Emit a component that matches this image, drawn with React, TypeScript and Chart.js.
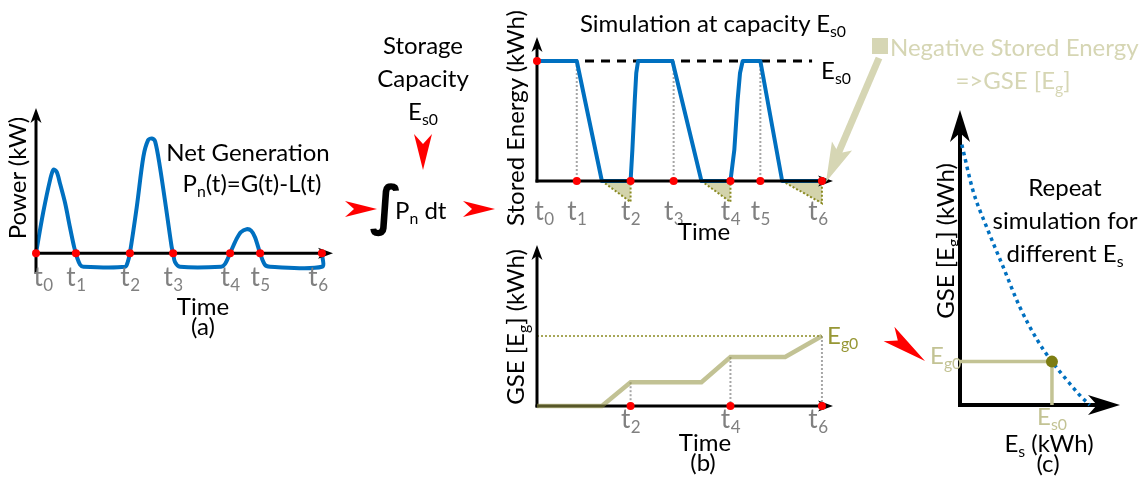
import React, { useEffect, useRef } from "react";
import { Chart, registerables } from "chart.js";

Chart.register(...registerables);

const FONT = "Lato, 'Open Sans', sans-serif";
const BLUE = "#0070c0";
const RED = "#ff0000";
const GRAY_TICK = "#808080";
const OLIVE_LINE = "rgba(150,150,70,0.58)";
const OLIVE_LIGHT = "#c3c394";
const OLIVE_PALE = "#d6d6b4";
const OLIVE_DARK = "#8a8a22";
const TRI_FILL = "#d3d3ab";

// ---- shared time instants t0..t6 (arbitrary time units) ----
const tickTimes = [0, 13.3, 31.3, 45.7, 64.7, 74.7, 95.3];
const tickSubs = ["0", "1", "2", "3", "4", "5", "6"];

// ---- (a) net generation P_n(t) ----
const netTime = [0, 2.4, 4.7, 5.8, 6.9, 8, 9.7, 11.3, 12.7, 13.3, 13.6, 14.7, 15.8, 29.7, 30.6, 31.3, 33.6, 35.8, 37.4, 38.6, 39.7, 41.3, 43.6, 45.2, 45.7, 46.3, 48, 61.7, 63, 64.7, 66.9, 68.3, 70.2, 71.7, 73, 74.7, 76.3, 78, 95.3, 95.3];
const netPower = [0, 2.8, 5.05, 5.75, 5.6, 4.8, 3.45, 1.8, 0.43, 0, -0.25, -0.8, -0.94, -0.94, -0.6, 0, 3.2, 6.65, 7.8, 7.9, 7.7, 5.95, 2.75, 0.45, 0, -0.6, -0.94, -0.94, -0.75, 0, 1.0, 1.45, 1.65, 1.55, 1.1, 0, -0.8, -0.94, -0.94, 0];

// ---- stored energy at capacity Es0 ----
const capacityEs0 = 10;
const storeTime = [0, 13.3, 21.7, 31.3, 31.9, 32.7, 33.2, 33.8, 45.3, 55, 64.7, 66, 67.1, 67.9, 68.8, 74.7, 82, 95.3];
const storeEnergy = [10, 10, 0, 0, 2.6, 6.75, 9, 10, 10, 0, 0, 2.6, 6.75, 9, 10, 10, 0, 0];
const negStart = [21.7, 55, 82];
const negEnd = [31.3, 64.7, 95.3];
const negDepth = [-1.75, -1.75, -1.85];
const dashEnd = 92;
const fullTimes = [13.3, 45.7, 74.7];

// ---- (b) GSE accumulation ----
const gseTime = [0, 21.7, 31.3, 55, 64.7, 83, 95.3];
const gseValue = [0, 0, 3.4, 3.4, 7, 7, 10];
const gseTicks = [2, 4, 6];
const gseAtTicks = [3.4, 7, 10];
const eg0 = 10;

// ---- (c) GSE vs storage capacity ----
const esValues = [0.2, 1.4, 2.9, 4.7, 6.5, 8.4, 10, 11.6, 13, 14.1];
const gseCurve = [60, 49.5, 41, 31.8, 22.6, 15, 10, 5.8, 2.3, 0];
const es0Point = 10;
const eg0Point = 10;

const pts = (xs: number[], ys: number[]) => xs.map((x, i) => ({ x, y: ys[i] }));

function lineDs(data: any[], color: string, width: number, extra: any = {}) {
  return {
    data,
    showLine: true,
    borderColor: color,
    borderWidth: width,
    pointRadius: 0,
    fill: false,
    clip: false,
    tension: 0,
    borderJoinStyle: "round",
    ...extra,
  };
}

function dotDs(data: any[], color: string, r: number) {
  return {
    data,
    showLine: false,
    pointRadius: r,
    pointBackgroundColor: color,
    pointBorderWidth: 0,
    clip: false,
  };
}

function drawArrow(ctx: CanvasRenderingContext2D, x1: number, y1: number, x2: number, y2: number, lw: number, len: number, half: number) {
  const a = Math.atan2(y2 - y1, x2 - x1);
  const ux = Math.cos(a), uy = Math.sin(a);
  const nx = -uy, ny = ux;
  ctx.save();
  ctx.strokeStyle = "#000";
  ctx.fillStyle = "#000";
  ctx.lineWidth = lw;
  ctx.lineCap = "square";
  ctx.beginPath();
  ctx.moveTo(x1, y1);
  ctx.lineTo(x2 - ux * len * 0.6, y2 - uy * len * 0.6);
  ctx.stroke();
  const bx = x2 - ux * len, by = y2 - uy * len;
  ctx.beginPath();
  ctx.moveTo(x2, y2);
  ctx.lineTo(bx + nx * half, by + ny * half);
  ctx.lineTo(x2 - ux * len * 0.72, y2 - uy * len * 0.72);
  ctx.lineTo(bx - nx * half, by - ny * half);
  ctx.closePath();
  ctx.fill();
  ctx.restore();
}

type AxisSpec = {
  xAxis: [number, number];
  yAxis: [number, number];
  lw: number;
  len: number;
  half: number;
  layer?: number;
  ticks?: { values: number[]; subs: string[]; below: number };
};

function makeAxesPlugin(spec: AxisSpec) {
  const drawAxes = (chart: any) => {
    const { ctx } = chart;
    const xs = chart.scales.x, ys = chart.scales.y;
    const x0 = xs.getPixelForValue(0), y0 = ys.getPixelForValue(0);
    drawArrow(ctx, xs.getPixelForValue(spec.xAxis[0]), y0, xs.getPixelForValue(spec.xAxis[1]), y0, spec.lw, spec.len, spec.half);
    drawArrow(ctx, x0, ys.getPixelForValue(spec.yAxis[0]), x0, ys.getPixelForValue(spec.yAxis[1]), spec.lw, spec.len, spec.half);
  };
  return {
    id: "arrowAxes",
    beforeDatasetsDraw(chart: any) {
      if (spec.layer === undefined) drawAxes(chart);
    },
    afterDatasetDraw(chart: any, args: any) {
      if (spec.layer === args.index) drawAxes(chart);
    },
    afterDraw(chart: any) {
      if (!spec.ticks) return;
      const { ctx } = chart;
      const xs = chart.scales.x, ys = chart.scales.y;
      const base = ys.getPixelForValue(0) + spec.ticks.below;
      const n = spec.ticks.values.length;
      ctx.save();
      ctx.fillStyle = GRAY_TICK;
      ctx.textBaseline = "alphabetic";
      spec.ticks.values.forEach((v, i) => {
        ctx.font = `26px ${FONT}`;
        const wt = ctx.measureText("t").width;
        ctx.font = `17px ${FONT}`;
        const ws = ctx.measureText(spec.ticks!.subs[i]).width;
        let cx = xs.getPixelForValue(v);
        if (v === 0) cx += 7;
        else if (i === n - 1) cx -= 4;
        const left = cx - (wt + ws) / 2;
        ctx.font = `26px ${FONT}`;
        ctx.fillText("t", left, base);
        ctx.font = `17px ${FONT}`;
        ctx.fillText(spec.ticks!.subs[i], left + wt + 0.5, base + 5);
      });
      ctx.restore();
    },
  };
}

function baseOptions(pad: any, xr: [number, number], yr: [number, number]) {
  return {
    responsive: false,
    animation: false,
    devicePixelRatio: 1,
    events: [],
    layout: { padding: pad },
    scales: {
      x: { type: "linear", display: false, min: xr[0], max: xr[1] },
      y: { type: "linear", display: false, min: yr[0], max: yr[1] },
    },
    plugins: { legend: { display: false }, tooltip: { enabled: false } },
  };
}

function ChartBox({ left, top, width, height, make }: { left: number; top: number; width: number; height: number; make: () => any }) {
  const ref = useRef<HTMLCanvasElement>(null);
  useEffect(() => {
    const chart = new Chart(ref.current as HTMLCanvasElement, make());
    return () => chart.destroy();
  }, []);
  return <canvas ref={ref} width={width} height={height} style={{ position: "absolute", left, top, width, height }} />;
}

// ---------- chart configs ----------
function configA() {
  return {
    type: "scatter",
    data: {
      datasets: [
        dotDs(tickTimes.map((t) => ({ x: t, y: 0 })), RED, 4),
        lineDs(pts(netTime, netPower), BLUE, 4, { tension: 0.3 }),
      ],
    },
    options: baseOptions({ left: 36, right: 12, top: 8, bottom: 38 }, [0, 99], [-1.3, 10]),
    plugins: [makeAxesPlugin({ xAxis: [0, 99], yAxis: [-1.3, 10], lw: 3, len: 15, half: 5.5, layer: 1, ticks: { values: tickTimes, subs: tickSubs, below: 33 } })],
  };
}

function configStore() {
  const tri = negStart.map((s, i) =>
    lineDs([{ x: s, y: 0 }, { x: negEnd[i], y: negDepth[i] }, { x: negEnd[i], y: 0 }], OLIVE_DARK, 2, {
      borderDash: [2, 2],
      fill: "origin",
      backgroundColor: TRI_FILL,
      borderJoinStyle: "miter",
    })
  );
  const guides = fullTimes.map((t) => lineDs([{ x: t, y: capacityEs0 }, { x: t, y: 0 }], "#a6a6a6", 2, { borderDash: [2, 2] }));
  return {
    type: "scatter",
    data: {
      datasets: [
        dotDs([{ x: 0, y: capacityEs0 }, ...tickTimes.slice(1).map((t) => ({ x: t, y: 0 }))], RED, 4),
        lineDs(pts(storeTime, storeEnergy), BLUE, 4),
        lineDs([{ x: 0, y: capacityEs0 }, { x: dashEnd, y: capacityEs0 }], "#000", 3, { borderDash: [9, 7] }),
        ...guides,
        ...tri,
      ],
    },
    options: baseOptions({ left: 37, right: 27, top: 17, bottom: 30 }, [0, 99], [-2, 12]),
    plugins: [makeAxesPlugin({ xAxis: [0, 99], yAxis: [0, 12], lw: 3, len: 15, half: 5.5, layer: 1, ticks: { values: tickTimes, subs: tickSubs, below: 39 } })],
  };
}

function configB() {
  const tv = gseTicks.map((k) => tickTimes[k]);
  const guides = tv.map((t, i) => lineDs([{ x: t, y: gseAtTicks[i] }, { x: t, y: 0 }], "#a6a6a6", 2, { borderDash: [2, 2] }));
  return {
    type: "scatter",
    data: {
      datasets: [
        dotDs(tv.map((t) => ({ x: t, y: 0 })), RED, 4),
        lineDs(pts(gseTime, gseValue), OLIVE_LINE, 4.5, { borderJoinStyle: "miter" }),
        lineDs([{ x: 0, y: eg0 }, { x: tickTimes[6], y: eg0 }], OLIVE_DARK, 1.5, { borderDash: [2, 2] }),
        ...guides,
      ],
    },
    options: baseOptions({ left: 37, right: 27, top: 10, bottom: 29 }, [0, 99], [0, 23]),
    plugins: [makeAxesPlugin({ xAxis: [0, 99], yAxis: [0, 23], lw: 3, len: 15, half: 5.5, layer: 2, ticks: { values: tv, subs: gseTicks.map(String), below: 22 } })],
  };
}

function configC() {
  return {
    type: "scatter",
    data: {
      datasets: [
        dotDs([{ x: es0Point, y: eg0Point }], "#7d7d12", 6),
        lineDs(pts(esValues, gseCurve), BLUE, 3.5, { borderDash: [3.5, 4], cubicInterpolationMode: "monotone" }),
        lineDs([{ x: 0, y: eg0Point }, { x: es0Point, y: eg0Point }, { x: es0Point, y: 0 }], OLIVE_LIGHT, 3.5, { borderJoinStyle: "miter" }),
      ],
    },
    options: baseOptions({ left: 40, right: 24, top: 10, bottom: 25 }, [0, 17.4], [0, 68]),
    plugins: [makeAxesPlugin({ xAxis: [0, 17.4], yAxis: [0, 68], lw: 4, len: 32, half: 10, ticks: undefined })],
  };
}

// ---------- text helpers ----------
function Sub({ children }: { children: any }) {
  return <span style={{ fontSize: "0.66em", position: "relative", top: "0.32em" }}>{children}</span>;
}

function Txt({ x, y, size = 24, color = "#000", rotate = false, anchor = "center", family = FONT, weight = 400, children }: any) {
  const tx = anchor === "left" ? "0" : "-50%";
  return (
    <div
      style={{
        position: "absolute",
        left: x,
        top: y,
        transform: `translate(${tx},-50%)${rotate ? " rotate(-90deg)" : ""}`,
        whiteSpace: "nowrap",
        fontFamily: family,
        fontSize: size,
        fontWeight: weight,
        color,
        lineHeight: 1,
      }}
    >
      {children}
    </div>
  );
}

function stealth(x1: number, y1: number, x2: number, y2: number, half: number, notch: number) {
  const a = Math.atan2(y2 - y1, x2 - x1);
  const ux = Math.cos(a), uy = Math.sin(a);
  const nx = -uy, ny = ux;
  const p = [
    [x2, y2],
    [x1 + nx * half, y1 + ny * half],
    [x1 + ux * notch, y1 + uy * notch],
    [x1 - nx * half, y1 - ny * half],
  ];
  return p.map((q) => q.join(",")).join(" ");
}

export default function App() {
  useEffect(() => {
    document.body.style.margin = "0";
  }, []);
  return (
    <div style={{ position: "fixed", left: 0, top: 0, width: 1144, height: 484, background: "#fff", overflow: "hidden", fontFamily: FONT }}>
      <ChartBox left={0} top={100} width={345} height={210} make={configA} />
      <ChartBox left={500} top={20} width={360} height={215} make={configStore} />
      <ChartBox left={500} top={235} width={360} height={200} make={configB} />
      <ChartBox left={920} top={100} width={224} height={330} make={configC} />

      <svg width={1144} height={484} style={{ position: "absolute", left: 0, top: 0, pointerEvents: "none" }}>
        <polygon points={stealth(345, 209, 377, 209, 8, 9)} fill={RED} />
        <polygon points={stealth(463, 209, 495, 209, 8, 9)} fill={RED} />
        <polygon points={stealth(423, 134, 423, 170, 9, 10)} fill={RED} />
        <polygon points={stealth(889, 334, 925, 361, 9, 11)} fill={RED} />
        <rect x={872} y={38} width={16} height={16} fill={OLIVE_PALE} />
        <line x1={879} y1={58} x2={838} y2={154} stroke={OLIVE_PALE} strokeWidth={7} />
        <polygon points={stealth(842, 146, 826, 182, 11, 8)} fill={OLIVE_PALE} />
      </svg>

      <Txt x={17} y={178} rotate>Power (kW)</Txt>
      <Txt x={248} y={152}>Net Generation</Txt>
      <Txt x={252} y={183}>P<Sub>n</Sub>(t)=G(t)-L(t)</Txt>
      <Txt x={203} y={306}>Time</Txt>
      <Txt x={203} y={326}>(a)</Txt>

      <Txt x={423} y={45}>Storage</Txt>
      <Txt x={423} y={78}>Capacity</Txt>
      <Txt x={423} y={111}>E<Sub>s0</Sub></Txt>
      <Txt x={386} y={206} size={54} weight={700} family="'DejaVu Sans', sans-serif">∫</Txt>
      <Txt x={395} y={210} anchor="left">P<Sub>n</Sub> dt</Txt>

      <Txt x={713} y={23}>Simulation at capacity E<Sub>s0</Sub></Txt>
      <Txt x={821} y={70} anchor="left">E<Sub>s0</Sub></Txt>
      <Txt x={515} y={118} rotate>Stored Energy (kWh)</Txt>
      <Txt x={704} y={231}>Time</Txt>

      <Txt x={515} y={327} rotate>GSE [E<Sub>g</Sub>] (kWh)</Txt>
      <Txt x={827} y={335} anchor="left" color="#979735">E<Sub>g0</Sub></Txt>
      <Txt x={705} y={442}>Time</Txt>
      <Txt x={703} y={462}>(b)</Txt>

      <Txt x={890} y={47} anchor="left" color={OLIVE_PALE}>Negative Stored Energy</Txt>
      <Txt x={1013} y={80} color={OLIVE_PALE}>=&gt;GSE [E<Sub>g</Sub>]</Txt>

      <Txt x={945} y={241} rotate>GSE [E<Sub>g</Sub>] (kWh)</Txt>
      <Txt x={1065} y={187}>Repeat</Txt>
      <Txt x={1065} y={220}>simulation for</Txt>
      <Txt x={1065} y={253}>different E<Sub>s</Sub></Txt>
      <Txt x={930} y={355} anchor="left" color={OLIVE_LIGHT}>E<Sub>g0</Sub></Txt>
      <Txt x={1052} y={416} color={OLIVE_LIGHT}>E<Sub>s0</Sub></Txt>
      <Txt x={1049} y={443}>E<Sub>s</Sub> (kWh)</Txt>
      <Txt x={1048} y={463}>(c)</Txt>
    </div>
  );
}
